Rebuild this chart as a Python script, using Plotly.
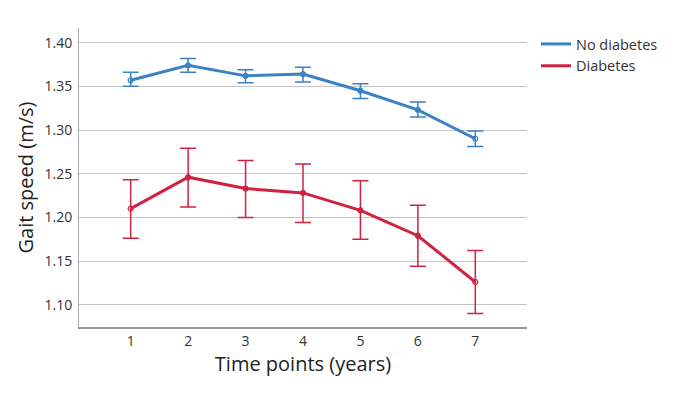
import plotly.graph_objects as go

time_points = [1, 2, 3, 4, 5, 6, 7]
x_tick_labels = ["1", "2", "3", "4", "5", "6", "7"]

no_diab_mean = [1.357, 1.374, 1.362, 1.364, 1.345, 1.323, 1.290]
no_diab_upper = [1.366, 1.382, 1.369, 1.372, 1.353, 1.332, 1.299]
no_diab_lower = [1.350, 1.366, 1.354, 1.355, 1.336, 1.315, 1.281]

diab_mean = [1.210, 1.246, 1.233, 1.228, 1.208, 1.179, 1.126]
diab_upper = [1.243, 1.279, 1.265, 1.261, 1.242, 1.214, 1.162]
diab_lower = [1.176, 1.212, 1.200, 1.194, 1.175, 1.144, 1.090]

y_ticks = [1.10, 1.15, 1.20, 1.25, 1.30, 1.35, 1.40]
y_tick_labels = ["1.10", "1.15", "1.20", "1.25", "1.30", "1.35", "1.40"]

BLUE = "#3B82C4"
RED = "#CF2240"


def symbols(n):
    return ["circle-open"] + ["circle"] * (n - 2) + ["circle-open"]


fig = go.Figure()
for name, mean, up, lo, col in [
    ("No diabetes", no_diab_mean, no_diab_upper, no_diab_lower, BLUE),
    ("Diabetes", diab_mean, diab_upper, diab_lower, RED),
]:
    fig.add_trace(go.Scatter(
        x=time_points, y=mean, name=name, mode="lines+markers",
        showlegend=False, legendgroup=name,
        line=dict(color=col, width=3),
        marker=dict(color=col, size=5, symbol=symbols(len(mean)),
                    line=dict(color=col, width=1.2)),
        error_y=dict(type="data", symmetric=False,
                     array=[u - m for u, m in zip(up, mean)],
                     arrayminus=[m - l for m, l in zip(mean, lo)],
                     color=col, thickness=1.5, width=8),
    ))
    # legend entry showing only a line
    fig.add_trace(go.Scatter(
        x=[None], y=[None], name=name, mode="lines", legendgroup=name,
        line=dict(color=col, width=3), showlegend=True,
    ))

fig.update_layout(
    width=677, height=394,
    margin=dict(l=71, r=158, t=20, b=75),
    paper_bgcolor="white", plot_bgcolor="white",
    font=dict(family="Open Sans", color="#333333"),
    showlegend=True,
    legend=dict(x=1.02, y=1.0, xanchor="left", yanchor="top",
                font=dict(size=14.5, color="#333333"),
                bgcolor="rgba(0,0,0,0)", tracegroupgap=0,
                itemwidth=30),
    xaxis=dict(range=[0.1, 7.9], tickvals=time_points, ticktext=x_tick_labels,
               showgrid=False, zeroline=False,
               showline=True, linecolor="#999999", linewidth=1.5,
               ticks="", tickfont=dict(size=14, color="#333333"),
               title=dict(text="Time points (years)", font=dict(size=20, color="#222222"),
                          standoff=8)),
    yaxis=dict(range=[1.0745, 1.4168], tickvals=y_ticks, ticktext=y_tick_labels,
               showgrid=True, gridcolor="#C4C4C4", gridwidth=1, zeroline=False,
               showline=True, linecolor="#AAAAAA", linewidth=1,
               ticks="", ticklabelstandoff=3, tickfont=dict(size=14, color="#333333"),
               title=dict(text="Gait speed (m/s)", font=dict(size=20, color="#222222"),
                          standoff=5)),
)

fig.write_html("out.html")
